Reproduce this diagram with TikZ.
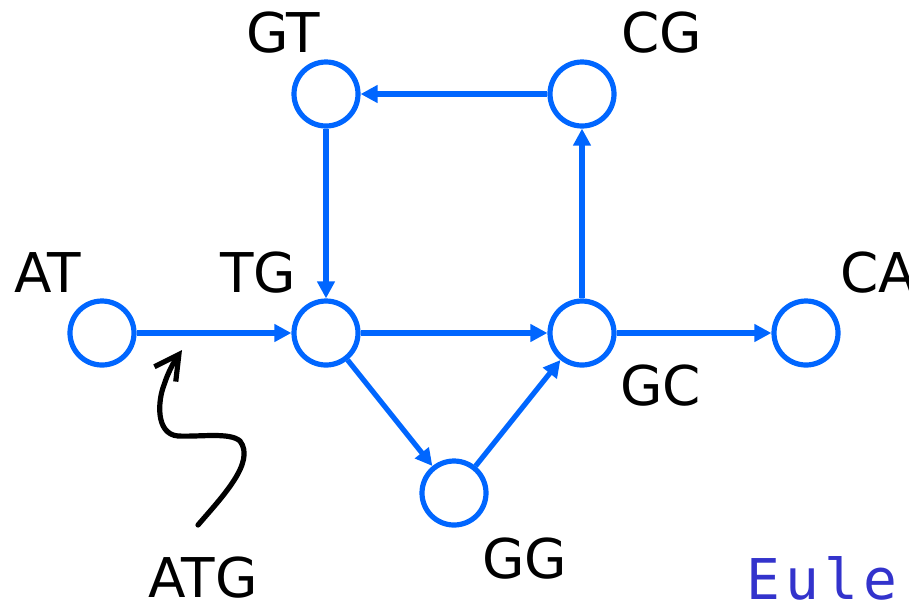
\documentclass[tikz,border=0pt]{standalone}
\usepackage{fontspec}
\setmainfont{DejaVu Sans}
\setmonofont{DejaVu Sans Mono}[LetterSpace=9]
\usetikzlibrary{arrows.meta}
\definecolor{nodeblue}{RGB}{0,102,255}
\definecolor{eulerblue}{RGB}{51,51,204}
\begin{document}
\begin{tikzpicture}[x=0.5pt,y=-0.5pt,
  vert/.style={circle,draw=nodeblue,line width=2.6pt,minimum size=32pt,inner sep=0pt},
  lbl/.style={anchor=base west,inner sep=0pt,font=\fontsize{27.4}{30}\selectfont},
  edge/.style={draw=nodeblue,line width=2.6pt,-{Triangle[length=8.5pt,width=8.5pt]}},
  squiggle/.style={draw=black,line width=2.6pt,line cap=round,-{Straight Barb[length=12pt,width=13pt,line width=2.6pt]}}]
\useasboundingbox (0,0) rectangle (909,601);
\clip (0,0) rectangle (909,601);
% vertices
\node[vert] (AT) at (102,333) {};
\node[vert] (TG) at (326,333) {};
\node[vert] (GC) at (582,333) {};
\node[vert] (CA) at (806,333) {};
\node[vert] (GT) at (326,94) {};
\node[vert] (CG) at (582,94) {};
\node[vert] (GG) at (454,493) {};
% labels
\node[lbl] (lAT) at (14,292) {AT};
\node[lbl] (lTG) at (220,292) {TG};
\node[lbl] (lGT) at (246,52) {GT};
\node[lbl] (lCG) at (621,52) {CG};
\node[lbl] (lCA) at (840,292) {CA};
\node[lbl] (lGC) at (620,405) {GC};
\node[lbl] (lGG) at (482,578) {GG};
\node[lbl] (lATG) at (148,597) {ATG};
\node[anchor=base west,inner sep=0pt,text=eulerblue,font=\ttfamily\fontsize{28.1}{30}\selectfont] (euler) at (746,599) {Euler};
% edges
\draw[edge] (AT) -- (TG);
\draw[edge] (TG) -- (GC);
\draw[edge] (GC) -- (CA);
\draw[edge] (GC) -- (CG);
\draw[edge] (CG) -- (GT);
\draw[edge] (GT) -- (TG);
\draw[edge] (TG) -- (GG);
\draw[edge] (GG) -- (GC);
% squiggly pointer
\coordinate (sqstart) at (198,525);
\coordinate (sqtip) at (182,350);
\draw[squiggle] (sqstart) .. controls (222,497) and (256,462) .. (240,441)
  .. controls (230,432) and (200,437) .. (178,436)
  .. controls (155,434) and (158,400) .. (164,385)
  .. controls (168,372) and (175,360) .. (sqtip);
\end{tikzpicture}
\end{document}
